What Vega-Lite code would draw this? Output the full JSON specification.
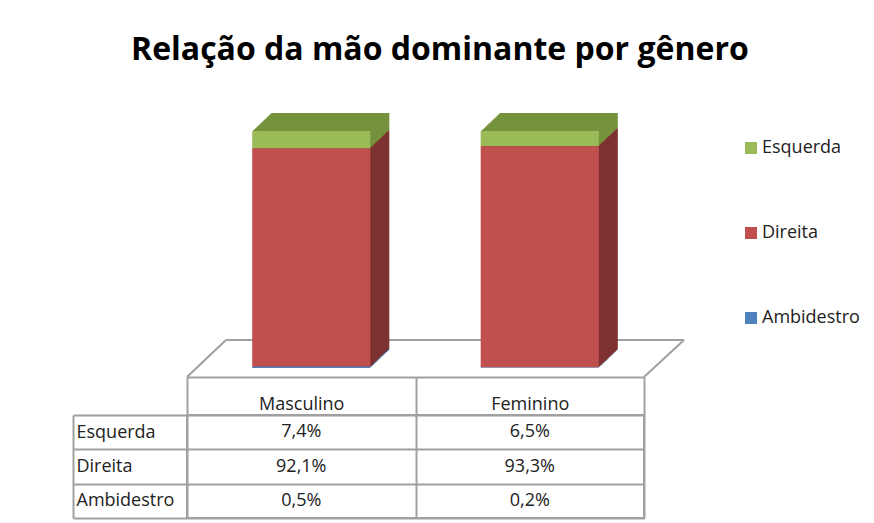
{
  "$schema": "https://vega.github.io/schema/vega-lite/v6.json",
  "background": "white",
  "autosize": {"type": "pad"},
  "padding": {"left": 71, "top": 34, "right": 260, "bottom": 10},
  "title": {"text": "Relação da mão dominante por gênero", "font": "Open Sans", "fontSize": 32, "fontWeight": "bold", "color": "#000000", "anchor": "start", "frame": "group", "dx": -56, "offset": 26},
  "data": {"values": [
    {"Genero": "Masculino", "Mao": "Esquerda", "Valor": 0.074},
    {"Genero": "Masculino", "Mao": "Direita", "Valor": 0.921},
    {"Genero": "Masculino", "Mao": "Ambidestro", "Valor": 0.005},
    {"Genero": "Feminino", "Mao": "Esquerda", "Valor": 0.065},
    {"Genero": "Feminino", "Mao": "Direita", "Valor": 0.933},
    {"Genero": "Feminino", "Mao": "Ambidestro", "Valor": 0.002}
  ]},
  "bounds": "flush",
  "spacing": 38,
  "resolve": {"scale": {"color": "independent", "fill": "independent", "x": "independent", "y": "independent"}, "legend": {"color": "independent", "fill": "independent"}},
  "config": {
    "locale": {"number": {"decimal": ",", "thousands": ".", "grouping": [3], "currency": ["R$", ""]}},
    "font": "Open Sans",
    "view": {"stroke": null}
  },
  "vconcat": [
    {
      "width": 457,
      "height": 284,
      "layer": [
        {"transform": [{"filter": "datum.Genero == 'Masculino' && datum.Mao == 'Direita'"}],
         "mark": {"type": "rule", "color": "#a0a0a0", "strokeWidth": 2, "xOffset": 39, "x2Offset": 382.75},
         "encoding": {"x": {"field": "Genero", "type": "nominal", "sort": ["Masculino", "Feminino"], "bandPosition": 0}, "x2": {"field": "Genero"},
                      "y": {"datum": 0.118, "type": "quantitative", "scale": {"domain": [-0.038, 1.16], "nice": false, "zero": false}, "axis": null}}},
        {"transform": [{"filter": "datum.Genero == 'Masculino' && datum.Mao == 'Direita'"}],
         "mark": {"type": "rule", "color": "#a0a0a0", "strokeWidth": 2, "x2Offset": -75.25},
         "encoding": {"x": {"field": "Genero", "type": "nominal", "sort": ["Masculino", "Feminino"], "bandPosition": 0}, "x2": {"field": "Genero"},
                      "y": {"datum": -0.038, "type": "quantitative"}, "y2": {"datum": 0.118}}},
        {"transform": [{"filter": "datum.Genero == 'Feminino' && datum.Mao == 'Direita'"}],
         "mark": {"type": "rule", "color": "#a0a0a0", "strokeWidth": 2, "x2Offset": 154.25},
         "encoding": {"x": {"field": "Genero", "type": "nominal", "sort": ["Masculino", "Feminino"], "bandPosition": 1}, "x2": {"field": "Genero"},
                      "y": {"datum": -0.038, "type": "quantitative"}, "y2": {"datum": 0.118}}},
        {
          "encoding": {
            "x": {"field": "Genero", "type": "nominal", "sort": ["Masculino", "Feminino"], "scale": {"paddingInner": 0, "paddingOuter": 0},
                  "axis": {"title": null, "labels": false, "ticks": false, "grid": false, "domain": true, "domainColor": "#a0a0a0", "domainWidth": 2}},
            "y": {"field": "Valor", "type": "quantitative", "stack": "zero"},
            "order": {"field": "Mao", "sort": "ascending"}
          },
          "layer": [
            {"mark": {"type": "bar", "width": {"band": 0.517}, "xOffset": 29, "yOffset": -18}, "encoding": {"fill": {"field": "Mao", "type": "nominal", "scale": {"domain": ["Ambidestro", "Direita", "Esquerda"], "range": ["#385D8A", "#7F3230", "#76923C"]}, "legend": null}}},
            {"mark": {"type": "bar", "width": {"band": 0.517}, "xOffset": 28, "yOffset": -17.1}, "encoding": {"fill": {"field": "Mao", "type": "nominal", "legend": null}}},
            {"mark": {"type": "bar", "width": {"band": 0.517}, "xOffset": 27, "yOffset": -16.1}, "encoding": {"fill": {"field": "Mao", "type": "nominal", "legend": null}}},
            {"mark": {"type": "bar", "width": {"band": 0.517}, "xOffset": 26, "yOffset": -15.2}, "encoding": {"fill": {"field": "Mao", "type": "nominal", "legend": null}}},
            {"mark": {"type": "bar", "width": {"band": 0.517}, "xOffset": 25, "yOffset": -14.2}, "encoding": {"fill": {"field": "Mao", "type": "nominal", "legend": null}}},
            {"mark": {"type": "bar", "width": {"band": 0.517}, "xOffset": 24, "yOffset": -13.3}, "encoding": {"fill": {"field": "Mao", "type": "nominal", "legend": null}}},
            {"mark": {"type": "bar", "width": {"band": 0.517}, "xOffset": 23, "yOffset": -12.3}, "encoding": {"fill": {"field": "Mao", "type": "nominal", "legend": null}}},
            {"mark": {"type": "bar", "width": {"band": 0.517}, "xOffset": 22, "yOffset": -11.4}, "encoding": {"fill": {"field": "Mao", "type": "nominal", "legend": null}}},
            {"mark": {"type": "bar", "width": {"band": 0.517}, "xOffset": 21, "yOffset": -10.4}, "encoding": {"fill": {"field": "Mao", "type": "nominal", "legend": null}}},
            {"mark": {"type": "bar", "width": {"band": 0.517}, "xOffset": 20, "yOffset": -9.5}, "encoding": {"fill": {"field": "Mao", "type": "nominal", "legend": null}}},
            {"mark": {"type": "bar", "width": {"band": 0.517}, "xOffset": 19, "yOffset": -8.5}, "encoding": {"fill": {"field": "Mao", "type": "nominal", "legend": null}}},
            {"mark": {"type": "bar", "width": {"band": 0.517}, "xOffset": 18, "yOffset": -7.6}, "encoding": {"fill": {"field": "Mao", "type": "nominal", "legend": null}}},
            {"mark": {"type": "bar", "width": {"band": 0.517}, "xOffset": 17, "yOffset": -6.6}, "encoding": {"fill": {"field": "Mao", "type": "nominal", "legend": null}}},
            {"mark": {"type": "bar", "width": {"band": 0.517}, "xOffset": 16, "yOffset": -5.7}, "encoding": {"fill": {"field": "Mao", "type": "nominal", "legend": null}}},
            {"mark": {"type": "bar", "width": {"band": 0.517}, "xOffset": 15, "yOffset": -4.7}, "encoding": {"fill": {"field": "Mao", "type": "nominal", "legend": null}}},
            {"mark": {"type": "bar", "width": {"band": 0.517}, "xOffset": 14, "yOffset": -3.8}, "encoding": {"fill": {"field": "Mao", "type": "nominal", "legend": null}}},
            {"mark": {"type": "bar", "width": {"band": 0.517}, "xOffset": 13, "yOffset": -2.8}, "encoding": {"fill": {"field": "Mao", "type": "nominal", "legend": null}}},
            {"mark": {"type": "bar", "width": {"band": 0.517}, "xOffset": 12, "yOffset": -1.9}, "encoding": {"fill": {"field": "Mao", "type": "nominal", "legend": null}}},
            {"mark": {"type": "bar", "width": {"band": 0.517}, "xOffset": 11, "yOffset": -0.9}, "encoding": {"fill": {"field": "Mao", "type": "nominal", "legend": null}}},
            {"mark": {"type": "bar", "width": {"band": 0.517}, "xOffset": 10},
             "encoding": {"color": {"field": "Mao", "type": "nominal",
               "scale": {"domain": ["Esquerda", "Direita", "Ambidestro"], "range": ["#9BBB59", "#C0504D", "#4F81BD"]},
               "legend": {"title": null, "orient": "none", "legendX": 555, "legendY": 46, "symbolType": "square", "symbolSize": 144, "symbolStrokeWidth": 0, "labelOffset": 2, "labelFont": "Open Sans", "labelFontSize": 18, "labelColor": "#222222", "rowPadding": 67}}}}
          ]
        }
      ]
    },
    {
      "width": 457,
      "height": 103,
      "view": {"stroke": "#a0a0a0", "strokeWidth": 2},
      "mark": {"type": "text", "font": "Open Sans", "fontSize": 18, "color": "#222222"},
      "encoding": {
        "x": {"field": "Genero", "type": "nominal", "sort": ["Masculino", "Feminino"], "scale": {"paddingInner": 0, "paddingOuter": 0},
              "axis": {"orient": "top", "title": null, "domain": false, "ticks": true, "tickSize": 38, "tickBand": "extent", "tickColor": "#a0a0a0", "tickWidth": 2,
                       "labelFont": "Open Sans", "labelFontSize": 18, "labelColor": "#222222", "labelAngle": 0, "labelBaseline": "middle", "labelPadding": -27,
                       "grid": true, "gridColor": "#a0a0a0", "gridWidth": 2, "gridOpacity": 1}},
        "y": {"field": "Mao", "type": "nominal", "sort": ["Esquerda", "Direita", "Ambidestro"], "scale": {"paddingInner": 0, "paddingOuter": 0},
              "axis": {"orient": "left", "title": null, "offset": 114, "domain": true, "domainColor": "#a0a0a0", "domainWidth": 2, "ticks": true, "tickSize": -114, "tickBand": "extent", "tickColor": "#a0a0a0", "tickWidth": 2,
                       "labelFont": "Open Sans", "labelFontSize": 18, "labelColor": "#222222", "labelAlign": "left", "labelBaseline": "middle", "labelPadding": 111,
                       "grid": true, "gridColor": "#a0a0a0", "gridWidth": 2, "gridOpacity": 1}},
        "text": {"field": "Valor", "type": "quantitative", "format": ".1%"}
      }
    }
  ]
}
